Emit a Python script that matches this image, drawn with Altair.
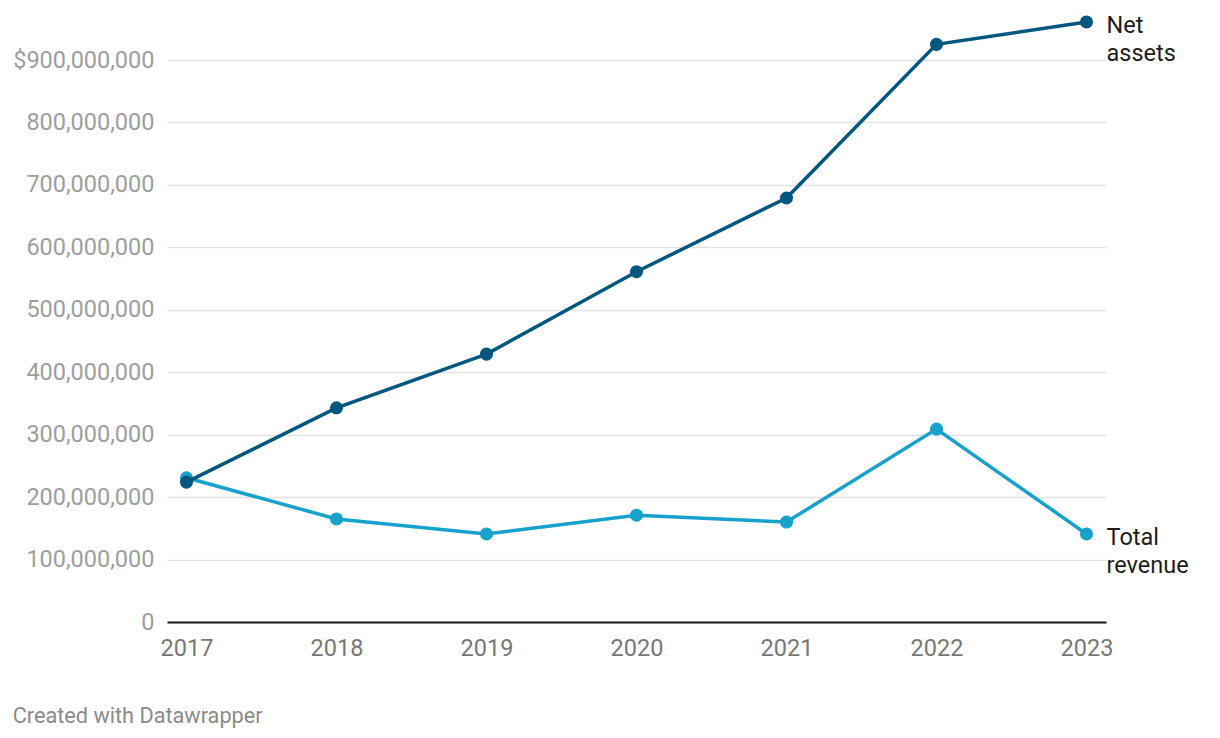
import altair as alt
import pandas as pd

years = [2017, 2018, 2019, 2020, 2021, 2022, 2023]
net_assets = [224e6, 343e6, 429e6, 561e6, 679e6, 925e6, 961e6]
total_revenue = [231e6, 165e6, 141e6, 171e6, 160e6, 309e6, 141e6]
series_names = ["Net assets", "Total revenue"]
series_colors = ["#02577f", "#18a1cd"]
label_lines = {"Net assets": ["Net", "assets"], "Total revenue": ["Total", "revenue"]}
y_ticks = [0, 100e6, 200e6, 300e6, 400e6, 500e6, 600e6, 700e6, 800e6, 900e6]

rows = []
for i, y in enumerate(years):
    rows.append({"year": str(y), "series": "Net assets", "value": net_assets[i]})
    rows.append({"year": str(y), "series": "Total revenue", "value": total_revenue[i]})
df = pd.DataFrame(rows)

last = df[df["year"] == str(years[-1])].copy()
last["label"] = last["series"].map(label_lines)

FONT = "Roboto"
FS = 23.5

x = alt.X("year:O", title=None,
          scale=alt.Scale(type="point", padding=0.13),
          axis=alt.Axis(labelAngle=0, labelFontSize=FS, labelColor="#777777",
                        labelFont=FONT, ticks=False, labelPadding=14,
                        domainColor="#1a1a1a", domainWidth=2, grid=False))
y = alt.Y("value:Q", title=None,
          scale=alt.Scale(domain=[0, 900e6], nice=False),
          axis=alt.Axis(values=y_ticks, labelFontSize=FS, labelColor="#9e9e9e",
                        labelFont=FONT, ticks=False, domain=False, labelPadding=13,
                        gridColor="#e3e3e3", gridWidth=1.5,
                        labelExpr="datum.value == 900000000 ? '$' + format(datum.value, ',') : format(datum.value, ',')"))
color = alt.Color("series:N", scale=alt.Scale(domain=series_names, range=series_colors), legend=None)

layers = []
for s in ["Total revenue", "Net assets"]:
    base = alt.Chart(df).transform_filter(alt.datum.series == s).encode(x=x, y=y, color=color)
    layers.append(base.mark_line(strokeWidth=3.5))
    layers.append(base.mark_circle(size=170, opacity=1))

labels = alt.Chart(last).mark_text(align="left", baseline="alphabetic", dx=20, dy=11,
                                   fontSize=FS, font=FONT, color="#1d1d1d",
                                   lineHeight=28).encode(
    x=alt.X("year:O"), y=alt.Y("value:Q"), text="label")
layers.append(labels)

chart = alt.layer(*layers).properties(
    width=939, height=562,
    title=alt.TitleParams("Created with Datawrapper", orient="bottom", anchor="start",
                          frame="bounds", fontSize=21.7, font=FONT, fontWeight="normal",
                          color="#8a8a8a", offset=46),
    autosize=alt.AutoSizeParams(type="none"),
    padding={"left": 159, "top": 52, "right": 100, "bottom": 150},
).configure(font=FONT, view=alt.ViewConfig(stroke=None))

chart.save("out.html", embed_options={"renderer": "svg", "actions": False})
